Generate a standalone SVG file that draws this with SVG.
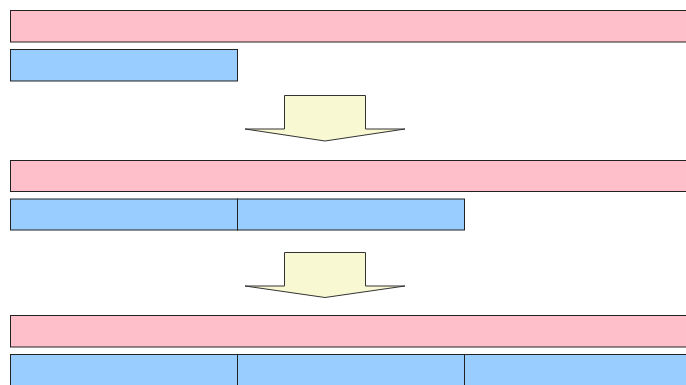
<svg xmlns="http://www.w3.org/2000/svg" width="686" height="385" viewBox="0 0 686 385">
  <style>
    .bar { fill: #FFBFCA; stroke: #222; stroke-width: 1; }
    .cell { fill: #99CCFF; stroke: #222; stroke-width: 1; }
    .step { fill: #F8F8D2; stroke: #333; stroke-width: 1; }
  </style>
  <rect width="686" height="385" fill="#fff"/>

  <!-- stage 1 -->
  <g id="stage1-bar"><rect class="bar" x="10.5" y="10.5" width="690" height="31.5"/></g>
  <g id="stage1-cell1"><rect class="cell" x="10.5" y="49.5" width="227" height="31.5"/></g>

  <!-- stage 2 -->
  <g id="stage2-bar"><rect class="bar" x="10.5" y="160.5" width="690" height="31"/></g>
  <g id="stage2-cell1"><rect class="cell" x="10.5" y="199" width="227" height="31"/></g>
  <g id="stage2-cell2"><rect class="cell" x="237.5" y="199" width="227" height="31"/></g>

  <!-- stage 3 -->
  <g id="stage3-bar"><rect class="bar" x="10.5" y="315.5" width="690" height="31.5"/></g>
  <g id="stage3-cell1"><rect class="cell" x="10.5" y="354.5" width="227" height="40"/></g>
  <g id="stage3-cell2"><rect class="cell" x="237.5" y="354.5" width="227" height="40"/></g>
  <g id="stage3-cell3"><rect class="cell" x="464.5" y="354.5" width="227" height="40"/></g>

  <!-- transitions between stages -->
  <g id="connectors">
    <polygon class="step" points="284.5,95.5 365.5,95.5 365.5,129 405,129 325,141 245,129 284.5,129"/>
    <polygon class="step" points="284.5,252.5 365.5,252.5 365.5,286 405,286 325,297.5 245,286 284.5,286"/>
  </g>
</svg>
